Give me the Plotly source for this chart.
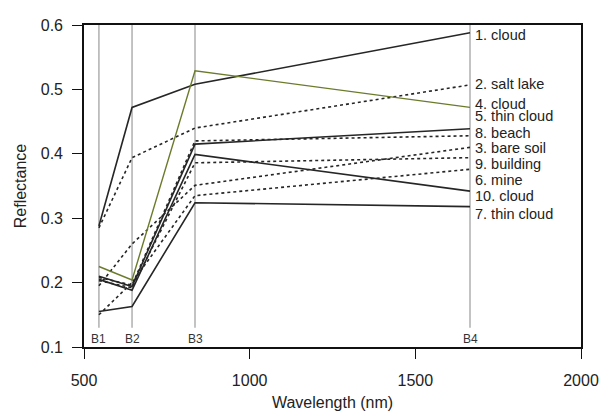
import plotly.graph_objects as go

# Band centre wavelengths (nm) and band names
band_wl = [545, 645, 835, 1665]
band_names = ["B1", "B2", "B3", "B4"]

# Series names and reflectance at B1..B4
names = ["1. cloud", "2. salt lake", "3. bare soil", "4. cloud", "5. thin cloud",
         "6. mine", "7. thin cloud", "8. beach", "9. building", "10. cloud"]
refl_cloud1 = [0.288, 0.472, 0.508, 0.588]
refl_saltlake = [0.285, 0.394, 0.440, 0.507]
refl_baresoil = [0.195, 0.260, 0.351, 0.410]
refl_cloud4 = [0.225, 0.204, 0.529, 0.472]
refl_thincloud5 = [0.210, 0.194, 0.415, 0.439]
refl_mine = [0.150, 0.200, 0.335, 0.376]
refl_thincloud7 = [0.155, 0.163, 0.324, 0.318]
refl_beach = [0.208, 0.196, 0.420, 0.428]
refl_building = [0.203, 0.192, 0.386, 0.394]
refl_cloud10 = [0.205, 0.188, 0.399, 0.342]

series = [refl_cloud1, refl_saltlake, refl_baresoil, refl_cloud4, refl_thincloud5,
          refl_mine, refl_thincloud7, refl_beach, refl_building, refl_cloud10]
# label vertical placement (reflectance units) at the right end
label_y = [0.584, 0.509, 0.409, 0.478, 0.458, 0.360, 0.307, 0.433, 0.384, 0.335]

styles = {
    "solid": dict(color="#262626", width=1.6, dash="solid"),
    "dash": dict(color="#262626", width=1.6, dash="3px,3px"),
    "green": dict(color="#6b7b2b", width=1.4, dash="solid"),
}
style_of = ["solid", "dash", "dash", "green", "solid", "dash", "solid", "dash", "dash", "solid"]

fig = go.Figure()

# band guide lines
for wl in band_wl:
    fig.add_trace(go.Scatter(x=[wl, wl], y=[0.13, 0.6], mode="lines",
                             line=dict(color="#b4b4b4", width=1.6),
                             hoverinfo="skip", showlegend=False))

for nm, vals, st in zip(names, series, style_of):
    fig.add_trace(go.Scatter(x=band_wl, y=vals, mode="lines", name=nm,
                             line=styles[st], showlegend=False))

for nm, ly in zip(names, label_y):
    fig.add_annotation(x=band_wl[-1], y=ly, text=nm, showarrow=False,
                       xanchor="left", yanchor="middle", xshift=3,
                       font=dict(size=14.5, color="#222222"))

for wl, bn in zip(band_wl, band_names):
    fig.add_annotation(x=wl, y=0.112, text=bn, showarrow=False,
                       xanchor="center", yanchor="middle",
                       font=dict(size=12, color="#333333"))

axis_common = dict(showgrid=False, zeroline=False, showline=True, linecolor="#111111",
                   linewidth=1.6, mirror=True, ticks="outside", ticklen=10,
                   tickwidth=1.3, tickcolor="#111111",
                   tickfont=dict(size=16, color="#222222"))

fig.update_xaxes(range=[500, 2000], tickvals=[500, 1000, 1500, 2000],
                 title=dict(text="Wavelength (nm)", font=dict(size=16, color="#222222"), standoff=9),
                 ticklabelstandoff=8, **axis_common)
fig.update_yaxes(range=[0.1, 0.6], tickvals=[0.1, 0.2, 0.3, 0.4, 0.5, 0.6],
                 tickformat=".1f",
                 title=dict(text="Reflectance", font=dict(size=16, color="#222222"), standoff=10),
                 ticklabelstandoff=6, **axis_common)

# the page body adds an 8px offset; size the figure so the plot lands where the reference has it
fig.update_layout(width=600, height=411,
                  margin=dict(l=76, r=23, t=9, b=72),
                  paper_bgcolor="white", plot_bgcolor="white",
                  font=dict(family="Liberation Sans, Arial, sans-serif"))

fig.write_html("out.html")
